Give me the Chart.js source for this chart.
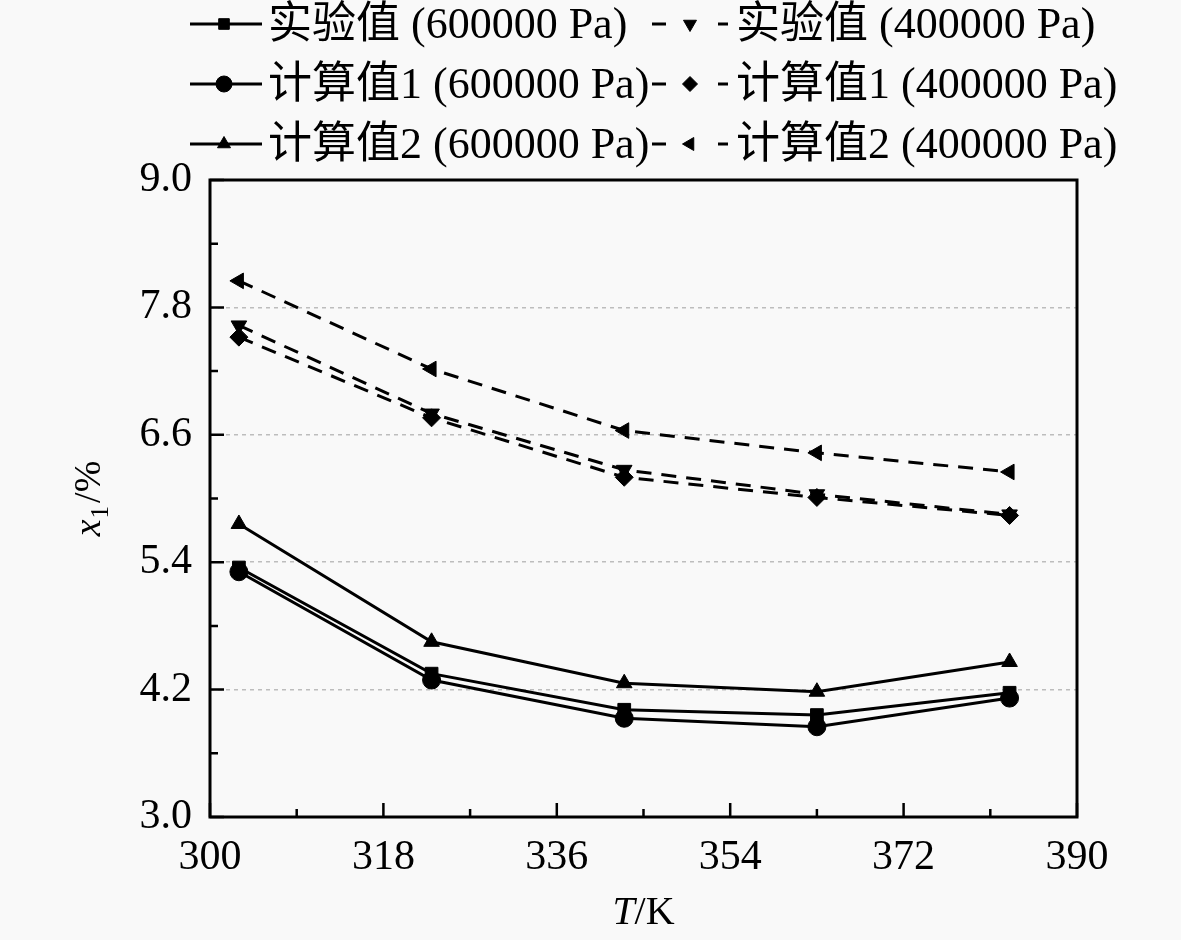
<!DOCTYPE html>
<html>
<head>
<meta charset="utf-8">
<script src="https://cdn.jsdelivr.net/npm/chart.js@4.4.1/dist/chart.umd.min.js"></script>
<style>
  html, body { margin: 0; padding: 0; background: #f9f9f9; }
  #wrap { width: 1181px; height: 940px; }
</style>
</head>
<body>
<div id="wrap"><canvas id="chart" width="1181" height="940"></canvas></div>
<script>
// 温度 (K)
const temps = [303, 323, 343, 363, 383];

// x1 (%) 600000 Pa
const exp600 = [5.35, 4.35, 4.01, 3.96, 4.17];
const calc1_600 = [5.31, 4.29, 3.93, 3.85, 4.12];
const calc2_600 = [5.76, 4.65, 4.26, 4.18, 4.46];

// x1 (%) 400000 Pa
const exp400 = [7.63, 6.80, 6.27, 6.04, 5.85];
const calc1_400 = [7.52, 6.76, 6.20, 6.01, 5.84];
const calc2_400 = [8.05, 7.22, 6.64, 6.43, 6.25];

const seriesLabels = [
    '实验值 (600000 Pa)', '计算值1 (600000 Pa)', '计算值2 (600000 Pa)',
    '实验值 (400000 Pa)', '计算值1 (400000 Pa)', '计算值2 (400000 Pa)'
];

const xTicks = [300, 318, 336, 354, 372, 390];
const yTicks = [3.0, 4.2, 5.4, 6.6, 7.8, 9.0];

const FONT = '"Liberation Serif", "Noto Sans CJK SC", serif';
const DASH = [15, 10];

function toPoints(arr) {
    return temps.map((t, i) => ({ x: t, y: arr[i] }));
}

function makeDataset(label, arr, style, rotation, dashed) {
    return {
        label: label,
        data: toPoints(arr),
        borderColor: '#000',
        backgroundColor: '#000',
        borderWidth: 3,
        borderDash: dashed ? DASH : [],
        pointStyle: style,
        pointRotation: rotation,
        pointRadius: style === 'rect' ? 9 : 9,
        pointBorderWidth: 1,
        tension: 0
    };
}

const datasets = [
    makeDataset(seriesLabels[0], exp600, 'rect', 0, false),
    makeDataset(seriesLabels[1], calc1_600, 'circle', 0, false),
    makeDataset(seriesLabels[2], calc2_600, 'triangle', 0, false),
    makeDataset(seriesLabels[3], exp400, 'triangle', 180, true),
    makeDataset(seriesLabels[4], calc1_400, 'rectRot', 0, true),
    makeDataset(seriesLabels[5], calc2_400, 'triangle', -90, true)
];

// 边框、内向刻度、坐标轴标题和图例
const framePlugin = {
    id: 'frame',
    afterDraw(chart) {
        const ctx = chart.ctx;
        const a = chart.chartArea;
        const xs = chart.scales.x;
        const ys = chart.scales.y;
        ctx.save();
        ctx.strokeStyle = '#000';
        ctx.lineWidth = 3;
        ctx.strokeRect(a.left, a.top, a.right - a.left, a.bottom - a.top);

        ctx.lineWidth = 2.5;
        ctx.beginPath();
        // y 刻度 (主 1.2, 次 0.6)
        for (let v = 3.0; v <= 9.0001; v += 0.6) {
            const py = ys.getPixelForValue(v);
            const major = Math.round((v - 3.0) / 0.6) % 2 === 0;
            ctx.moveTo(a.left, py);
            ctx.lineTo(a.left + (major ? 14 : 8), py);
        }
        // x 刻度 (主 18, 次 9)
        for (let v = 300; v <= 390; v += 9) {
            const px = xs.getPixelForValue(v);
            const major = ((v - 300) / 9) % 2 === 0;
            ctx.moveTo(px, a.bottom);
            ctx.lineTo(px, a.bottom - (major ? 14 : 8));
        }
        ctx.stroke();

        // x 轴标题 T/K
        ctx.fillStyle = '#000';
        ctx.textBaseline = 'alphabetic';
        const cx = (a.left + a.right) / 2;
        ctx.font = 'italic 40px ' + FONT;
        const wT = ctx.measureText('T').width;
        ctx.font = '40px ' + FONT;
        const wK = ctx.measureText('/K').width;
        let sx = cx - (wT + wK) / 2;
        ctx.font = 'italic 40px ' + FONT;
        ctx.textAlign = 'left';
        ctx.fillText('T', sx, 924);
        ctx.font = '40px ' + FONT;
        ctx.fillText('/K', sx + wT, 924);

        // y 轴标题 x1/%
        ctx.save();
        ctx.translate(100, (a.top + a.bottom) / 2);
        ctx.rotate(-Math.PI / 2);
        ctx.font = 'italic 38px ' + FONT;
        const wx = ctx.measureText('x').width;
        ctx.font = '25px ' + FONT;
        const w1 = ctx.measureText('1').width;
        ctx.font = '38px ' + FONT;
        const wp = ctx.measureText('/%').width;
        let tx = -(wx + w1 + 4 + wp) / 2;
        ctx.font = 'italic 38px ' + FONT;
        ctx.fillText('x', tx, 0);
        ctx.font = '25px ' + FONT;
        ctx.fillText('1', tx + wx + 1, 8);
        ctx.font = '38px ' + FONT;
        ctx.fillText('/%', tx + wx + w1 + 4, 0);
        ctx.restore();

        // 图例
        const rowsY = [24, 84, 144];
        ctx.font = '44px ' + FONT;
        ctx.textBaseline = 'middle';
        chart.data.datasets.forEach((ds, i) => {
            const col = i < 3 ? 0 : 1;
            const y = rowsY[i % 3];
            const x0 = col === 0 ? 190 : 652;
            const x1 = col === 0 ? 262 : 728;
            const mx = col === 0 ? 224 : 690;
            ctx.save();
            ctx.strokeStyle = '#000';
            ctx.lineWidth = 3;
            if (col === 0) {
                ctx.beginPath();
                ctx.moveTo(x0, y);
                ctx.lineTo(x1, y);
                ctx.stroke();
            } else {
                ctx.beginPath();
                ctx.moveTo(x0, y); ctx.lineTo(x0 + 14, y);
                ctx.moveTo(x1 - 10, y); ctx.lineTo(x1, y);
                ctx.stroke();
            }
            ctx.restore();
            ctx.fillStyle = '#000';
            ctx.strokeStyle = '#000';
            ctx.lineWidth = 1;
            Chart.helpers.drawPoint(ctx, {
                pointStyle: ds.pointStyle,
                rotation: ds.pointRotation,
                radius: ds.pointStyle === 'circle' ? 8 : 7.5,
                borderWidth: 1
            }, mx, y);
            ctx.fillStyle = '#000';
            ctx.textAlign = 'left';
            ctx.fillText(ds.label, col === 0 ? 268 : 736, y + 2);
        });
        ctx.restore();
    }
};

const ctx = document.getElementById('chart').getContext('2d');

new Chart(ctx, {
    type: 'line',
    data: { datasets: datasets },
    options: {
        responsive: false,
        animation: false,
        layout: { padding: { top: 180, right: 104, left: 0, bottom: 0 } },
        plugins: {
            legend: { display: false },
            tooltip: { enabled: false }
        },
        scales: {
            x: {
                type: 'linear',
                min: 300,
                max: 390,
                afterFit(scale) { scale.height = 123; },
                afterBuildTicks(scale) { scale.ticks = xTicks.map(v => ({ value: v })); },
                grid: { display: false, drawTicks: false },
                border: { display: false },
                ticks: {
                    color: '#000',
                    font: { family: FONT, size: 42 },
                    padding: 16,
                    autoSkip: false,
                    maxRotation: 0,
                    callback: v => v.toString()
                }
            },
            y: {
                type: 'linear',
                min: 3.0,
                max: 9.0,
                afterFit(scale) { scale.width = 210; },
                afterBuildTicks(scale) { scale.ticks = yTicks.map(v => ({ value: v })); },
                grid: {
                    drawTicks: false,
                    lineWidth: 1.5,
                    color: c => (c.tick && (c.tick.value <= 3.0 || c.tick.value >= 9.0)) ? 'rgba(0,0,0,0)' : '#bdbdbd'
                },
                border: { display: false, dash: [4, 4] },
                ticks: {
                    color: '#000',
                    font: { family: FONT, size: 42 },
                    padding: 18,
                    autoSkip: false,
                    callback: v => Number(v).toFixed(1)
                }
            }
        }
    },
    plugins: [framePlugin]
});
</script>
</body>
</html>
